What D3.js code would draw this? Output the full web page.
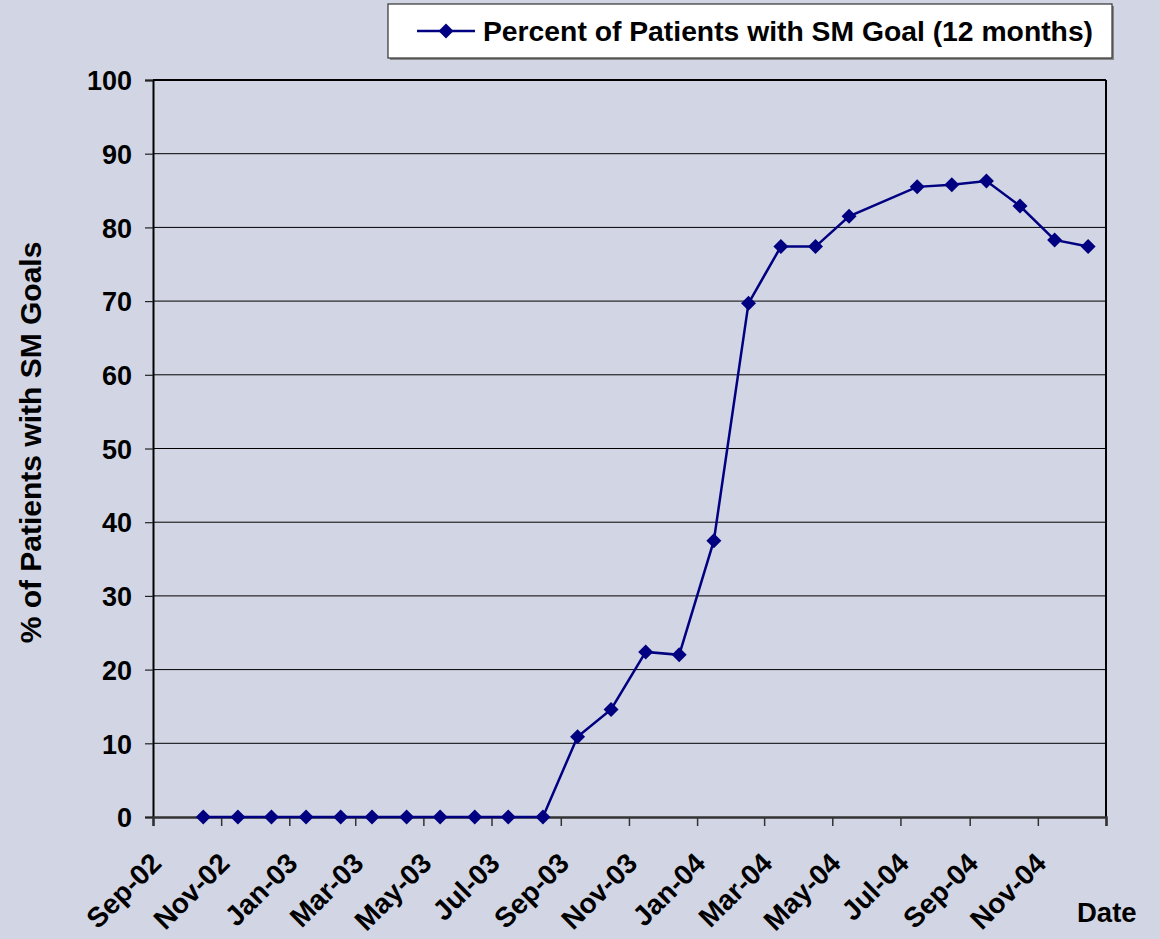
<!DOCTYPE html>
<html>
<head>
<meta charset="utf-8">
<script src="https://cdn.jsdelivr.net/npm/d3@7"></script>
<style>
  html, body { margin: 0; padding: 0; background: #D2D6E4; }
  svg { display: block; }
  text { font-family: "Liberation Sans", Arial, sans-serif; font-weight: bold; fill: #000; }
</style>
</head>
<body>
<svg id="chart" width="1160" height="939"></svg>
<script>
// ---- data ----
const dates = [
  "2002-10-16","2002-11-16","2002-12-16","2003-01-16","2003-02-16","2003-03-16",
  "2003-04-16","2003-05-16","2003-06-16","2003-07-16","2003-08-16","2003-09-16",
  "2003-10-16","2003-11-16","2003-12-16","2004-01-16","2004-02-16","2004-03-16",
  "2004-04-16","2004-05-16","2004-07-16","2004-08-16","2004-09-16","2004-10-16",
  "2004-11-16","2004-12-16"
];
const values = [
  0, 0, 0, 0, 0, 0,
  0, 0, 0, 0, 0, 10.9,
  14.6, 22.4, 22.0, 37.5, 69.7, 77.4,
  77.4, 81.5, 85.5, 85.8, 86.3, 82.9,
  78.3, 77.4
];
const seriesName = "Percent of Patients with SM Goal (12 months)";
const yTicks = [0, 10, 20, 30, 40, 50, 60, 70, 80, 90, 100];
const xDomain = ["2002-09-01", "2005-01-01"];
const yTitle = "% of Patients with SM Goals";
const xTitle = "Date";

// ---- layout ----
const svg = d3.select("#chart");
const parse = d3.timeParse("%Y-%m-%d");
const L = 153, R = 1106, T = 80, B = 817;
const navy = "#000080";

const x = d3.scaleTime().domain(xDomain.map(parse)).range([L, R]);
const y = d3.scaleLinear().domain([0, 100]).range([B, T]);

const data = dates.map((d, i) => ({ date: parse(d), v: values[i] }));

// gridlines
svg.append("g").selectAll("line").data(yTicks.filter(t => t > 0 && t < 100)).join("line")
  .attr("x1", L).attr("x2", R).attr("y1", d => y(d)).attr("y2", d => y(d))
  .attr("stroke", "#000").attr("stroke-width", 1);

// frame top & right
svg.append("line").attr("x1", L).attr("x2", R).attr("y1", T).attr("y2", T)
  .attr("stroke", "#000").attr("stroke-width", 2);
svg.append("line").attr("x1", R).attr("x2", R).attr("y1", T).attr("y2", B)
  .attr("stroke", "#000").attr("stroke-width", 2);

// y axis
const yAxis = d3.axisLeft(y).tickValues(yTicks).tickSize(8).tickPadding(6).tickFormat(d3.format("d"));
const gy = svg.append("g").attr("transform", `translate(${L},0)`).call(yAxis);
gy.select(".domain").attr("stroke", "#000").attr("stroke-width", 2);
gy.selectAll(".tick line").attr("stroke", "#222").attr("stroke-width", 1.2);
gy.selectAll(".tick text").style("font-size", "27px").attr("x", -21).attr("dy", "0.36em");

// x axis
const xTickVals = d3.timeMonth.every(2).range(parse(xDomain[0]), d3.timeDay.offset(parse(xDomain[1]), 1));
const fmt = d3.timeFormat("%b-%y");
const xAxis = d3.axisBottom(x).tickValues(xTickVals).tickSize(9).tickFormat("");
const gx = svg.append("g").attr("transform", `translate(0,${B})`).call(xAxis);
gx.select(".domain").attr("stroke", "#333").attr("stroke-width", 2.5);
gx.selectAll(".tick line").attr("stroke", "#333").attr("stroke-width", 1.5);

svg.append("g").selectAll("text").data(xTickVals.slice(0, -1)).join("text")
  .attr("transform", d => `translate(${x(d) + 10},${865}) rotate(-45)`)
  .attr("text-anchor", "end")
  .style("font-size", "28px")
  .text(d => fmt(d));

// axis titles
svg.append("text").attr("transform", `translate(41,${(T + B) / 2 - 6}) rotate(-90)`)
  .attr("text-anchor", "middle").style("font-size", "30px").text(yTitle);
svg.append("text").attr("x", 1077).attr("y", 922).style("font-size", "27.5px").text(xTitle);

// series line
const line = d3.line().x(d => x(d.date)).y(d => y(d.v));
svg.append("path").datum(data).attr("d", line)
  .attr("fill", "none").attr("stroke", navy).attr("stroke-width", 2.5);

// markers
const diamond = (s) => `M0,${-s}L${s},0L0,${s}L${-s},0Z`;
svg.append("g").selectAll("path").data(data).join("path")
  .attr("transform", d => `translate(${x(d.date)},${y(d.v)})`)
  .attr("d", diamond(7.5)).attr("fill", navy);

// legend
const lg = svg.append("g");
lg.append("rect").attr("x", 390).attr("y", 6).attr("width", 724).attr("height", 54)
  .attr("fill", "#888");
lg.append("rect").attr("x", 388).attr("y", 4).attr("width", 724).attr("height", 54)
  .attr("fill", "#fff").attr("stroke", "#333").attr("stroke-width", 1.2);
lg.append("line").attr("x1", 417).attr("x2", 475).attr("y1", 31).attr("y2", 31)
  .attr("stroke", navy).attr("stroke-width", 2.5);
lg.append("path").attr("transform", "translate(446,31)").attr("d", diamond(7.5)).attr("fill", navy);
lg.append("text").attr("x", 483).attr("y", 41).style("font-size", "28.3px").text(seriesName);
</script>
</body>
</html>
